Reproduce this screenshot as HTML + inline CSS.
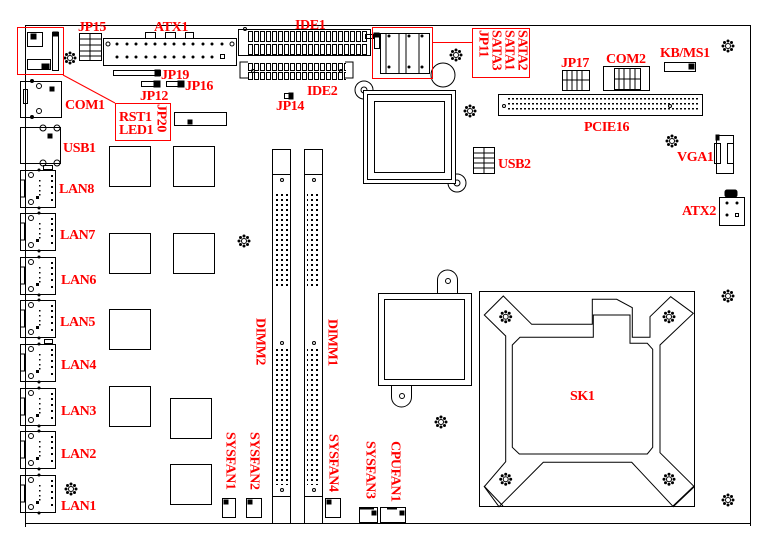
<!DOCTYPE html>
<html><head><meta charset="utf-8"><style>
html,body{margin:0;padding:0;background:#fff;}
svg{display:block;}
.t{font-family:"Liberation Serif",serif;font-weight:bold;font-size:14px;letter-spacing:-0.4px;fill:#f00;}
.v{font-family:"Liberation Serif",serif;font-weight:bold;font-size:14px;letter-spacing:-0.4px;fill:#f00;writing-mode:tb;}
</style></head><body>
<svg width="776" height="550" viewBox="0 0 776 550" xmlns="http://www.w3.org/2000/svg">
<defs>
<pattern id="dimm" x="275" y="193" width="5" height="5" patternUnits="userSpaceOnUse"><rect x="1" y="1" width="2" height="2" fill="#000"/></pattern>
<pattern id="pcie" x="503" y="97" width="4" height="5" patternUnits="userSpaceOnUse"><rect x="1" y="1" width="2" height="1.5" fill="#000"/></pattern>
<pattern id="ide" x="248" y="31" width="6" height="13" patternUnits="userSpaceOnUse"><rect x="0.5" y="0.5" width="4" height="10" fill="none" stroke="#000" stroke-width="1"/></pattern>
<pattern id="ide2" x="248" y="63" width="6" height="9" patternUnits="userSpaceOnUse"><rect x="0.5" y="0.5" width="4" height="7" fill="none" stroke="#000" stroke-width="1"/></pattern>
<g id="hole"><circle r="2.5" fill="none" stroke="#000"/><circle cx="0" cy="-5" r="1" fill="#000"/><circle cx="0" cy="5" r="1" fill="#000"/><circle cx="-5" cy="0" r="1" fill="#000"/><circle cx="5" cy="0" r="1" fill="#000"/><circle cx="3.5" cy="3.5" r="1" fill="#000"/><circle cx="-3.5" cy="3.5" r="1" fill="#000"/><circle cx="3.5" cy="-3.5" r="1" fill="#000"/><circle cx="-3.5" cy="-3.5" r="1" fill="#000"/></g>
<g id="lan" fill="none" stroke="#000" stroke-width="1">
<rect x="0.5" y="0.5" width="35" height="37"/><rect x="0.5" y="10" width="4" height="17"/>
<circle cx="11" cy="5" r="2.5"/><circle cx="11" cy="32" r="2.5"/>
<g fill="#000" stroke="none"><circle cx="19" cy="0" r="1.5"/><circle cx="19" cy="38" r="1.5"/><rect x="16" y="26" width="3" height="3"/><rect x="31" y="5" width="2" height="2"/><rect x="31" y="10" width="2" height="2"/><rect x="31" y="16" width="2" height="2"/><rect x="31" y="22" width="2" height="2"/><rect x="31" y="29" width="2" height="2"/><rect x="19" y="10" width="1.5" height="1.5"/><rect x="19" y="15" width="1.5" height="1.5"/><rect x="19" y="20" width="1.5" height="1.5"/><rect x="19" y="24" width="1.5" height="1.5"/></g>
</g>
</defs>
<g fill="none" stroke="#000" stroke-width="1">
<polyline points="25.5,527 25.5,25.5 750.5,25.5 750.5,526"/>
<line x1="25" y1="523.5" x2="750" y2="523.5"/>
<rect x="27.5" y="32.5" width="15" height="14"/><rect x="31" y="34" width="5" height="5" fill="#000"/>
<rect x="27.5" y="59.5" width="23" height="10"/><rect x="42" y="64" width="7" height="5" fill="#000"/>
<rect x="52.5" y="32.5" width="6" height="38"/><rect x="53" y="32" width="5" height="4" fill="#000"/>
<use href="#hole" x="70" y="58"/>
<rect x="79.5" y="33.5" width="22" height="27"/>
<line x1="90" y1="33" x2="90" y2="61"/>
<line x1="79" y1="39" x2="102" y2="39"/><line x1="79" y1="45" x2="102" y2="45"/><line x1="79" y1="51" x2="102" y2="51"/><line x1="79" y1="56" x2="102" y2="56"/>
<rect x="103.5" y="38.5" width="133" height="27"/>
<rect x="145.5" y="32.5" width="10" height="6"/><rect x="165.5" y="32.5" width="10" height="6"/><rect x="185.5" y="32.5" width="8" height="6"/>
<circle cx="108" cy="44" r="2"/><circle cx="232" cy="44" r="2"/>
<rect x="220.5" y="54.5" width="4" height="4"/>
<g fill="#000" stroke="none">
<circle cx="117" cy="44" r="1.5"/><circle cx="127" cy="44" r="1.5"/><circle cx="136" cy="44" r="1.5"/><circle cx="146" cy="44" r="1.5"/><circle cx="155" cy="44" r="1.5"/><circle cx="165" cy="44" r="1.5"/><circle cx="174" cy="44" r="1.5"/><circle cx="184" cy="44" r="1.5"/><circle cx="193" cy="44" r="1.5"/><circle cx="203" cy="44" r="1.5"/><circle cx="212" cy="44" r="1.5"/><circle cx="222" cy="44" r="1.5"/>
<circle cx="117" cy="57" r="1.5"/><circle cx="127" cy="57" r="1.5"/><circle cx="136" cy="57" r="1.5"/><circle cx="146" cy="57" r="1.5"/><circle cx="155" cy="57" r="1.5"/><circle cx="165" cy="57" r="1.5"/><circle cx="174" cy="57" r="1.5"/><circle cx="184" cy="57" r="1.5"/><circle cx="193" cy="57" r="1.5"/><circle cx="203" cy="57" r="1.5"/><circle cx="212" cy="57" r="1.5"/>
</g>
<rect x="113.5" y="70.5" width="47" height="5"/><rect x="155" y="70" width="5" height="6" fill="#000"/>
<rect x="141.5" y="81.5" width="18" height="5"/><rect x="154" y="81" width="6" height="6" fill="#000"/>
<rect x="166.5" y="81.5" width="17" height="5"/><rect x="178" y="81" width="6" height="6" fill="#000"/>
<rect x="174.5" y="112.5" width="52" height="13"/><rect x="188" y="120" width="4" height="4" fill="#000"/>
<rect x="238.5" y="29.5" width="132" height="26"/>
<rect x="248" y="31" width="120" height="26" fill="url(#ide)" stroke="none"/>
<circle cx="245" cy="29" r="1.5"/>
<rect x="365.5" y="34.5" width="8" height="4"/>
<polyline points="248,62 240,62 240,78 248,78"/><polyline points="345,62 353,62 353,78 345,78"/>
<rect x="248" y="63" width="98" height="17" fill="url(#ide2)" stroke="none"/>
<circle cx="253" cy="71" r="1.5"/><circle cx="341" cy="71" r="1.5"/>
<rect x="284.5" y="93.5" width="8" height="5"/><rect x="289" y="93" width="4" height="6" fill="#000"/>
<rect x="374.5" y="33.5" width="5" height="15"/><rect x="374" y="33" width="5" height="4" fill="#000"/>
<rect x="380.5" y="33.5" width="49" height="40"/>
<line x1="386" y1="33" x2="386" y2="74"/><line x1="399" y1="33" x2="399" y2="74"/><line x1="406" y1="33" x2="406" y2="74"/><line x1="419" y1="33" x2="419" y2="74"/>
<g fill="#000" stroke="none"><circle cx="389" cy="36" r="1.5"/><circle cx="389" cy="67" r="1.5"/><circle cx="409" cy="36" r="1.5"/><circle cx="409" cy="67" r="1.5"/><circle cx="422" cy="36" r="1.5"/><circle cx="422" cy="67" r="1.5"/></g>
<circle cx="443" cy="75" r="12"/>
<use href="#hole" x="456" y="55"/>
<circle cx="364" cy="90" r="9"/><circle cx="364" cy="90" r="3"/>
<circle cx="457" cy="183" r="9"/><circle cx="457" cy="183" r="3"/>
<rect x="363.5" y="90.5" width="92" height="93" fill="#fff"/>
<rect x="367.5" y="94.5" width="84" height="85"/>
<rect x="374.5" y="101.5" width="70" height="71"/>
<use href="#hole" x="470" y="111"/>
<rect x="473.5" y="147.5" width="21" height="26"/>
<line x1="484" y1="147" x2="484" y2="174"/>
<line x1="473" y1="153" x2="495" y2="153"/><line x1="473" y1="158" x2="495" y2="158"/><line x1="473" y1="163" x2="495" y2="163"/><line x1="473" y1="168" x2="495" y2="168"/>
<rect x="562.5" y="70.5" width="27" height="20"/>
<line x1="562" y1="80" x2="590" y2="80"/>
<line x1="567" y1="70" x2="567" y2="91"/><line x1="572" y1="70" x2="572" y2="91"/><line x1="577" y1="70" x2="577" y2="91"/><line x1="582" y1="70" x2="582" y2="91"/>
<rect x="603.5" y="66.5" width="46" height="24"/>
<rect x="614.5" y="68.5" width="26" height="21"/>
<line x1="614" y1="79" x2="641" y2="79"/>
<line x1="619" y1="68" x2="619" y2="90"/><line x1="624" y1="68" x2="624" y2="90"/><line x1="630" y1="68" x2="630" y2="90"/><line x1="635" y1="68" x2="635" y2="90"/>
<rect x="664.5" y="62.5" width="31" height="9"/><rect x="689" y="64" width="5" height="5" fill="#000"/>
<use href="#hole" x="728" y="46"/>
<rect x="498.5" y="94.5" width="204" height="21"/>
<rect x="507" y="97" width="192" height="16" fill="url(#pcie)" stroke="none"/>
<circle cx="504" cy="106" r="1.5"/><circle cx="670" cy="106" r="1.5"/>
<use href="#hole" x="672" y="141"/>
<rect x="716.5" y="135.5" width="17" height="38"/><rect x="716" y="135" width="3" height="5" fill="#000"/>
<rect x="714.5" y="143.5" width="6" height="20"/><rect x="727.5" y="143.5" width="6" height="20"/>
<rect x="719.5" y="197.5" width="25" height="28"/><rect x="725" y="190" width="12" height="7" rx="2" fill="#000"/>
<circle cx="727" cy="203" r="1" fill="#000"/><circle cx="737" cy="203" r="1" fill="#000"/><circle cx="727" cy="215" r="1" fill="#000"/><rect x="735.5" y="213.5" width="3" height="3"/>
<use href="#hole" x="728" y="296"/><use href="#hole" x="728" y="500"/>
<rect x="20.5" y="81.5" width="41" height="36"/><rect x="23.5" y="89.5" width="4" height="14"/>
<circle cx="39" cy="86" r="2.5"/><circle cx="39" cy="111" r="2.5"/>
<rect x="50" y="87" width="4" height="4" fill="#000"/>
<circle cx="32" cy="81" r="1.5" fill="#000"/><circle cx="32" cy="117" r="1.5" fill="#000"/>
<rect x="20.5" y="127.5" width="40" height="36"/>
<circle cx="43" cy="128" r="3"/><circle cx="57" cy="128" r="3"/><circle cx="43" cy="163" r="3"/><circle cx="57" cy="163" r="3"/>
<rect x="48" y="134" width="4" height="4" fill="#000"/>
<use href="#lan" x="20" y="170"/><use href="#lan" x="20" y="213"/><use href="#lan" x="20" y="257"/><use href="#lan" x="20" y="300"/>
<use href="#lan" x="20" y="344"/><use href="#lan" x="20" y="388"/><use href="#lan" x="20" y="431"/><use href="#lan" x="20" y="475"/>
<rect x="43.5" y="165.5" width="9" height="4"/><rect x="44.5" y="339.5" width="8" height="4"/>
<use href="#hole" x="71" y="489"/>
<rect x="109.5" y="146.5" width="41" height="40"/><rect x="173.5" y="146.5" width="41" height="40"/>
<rect x="109.5" y="233.5" width="41" height="40"/><rect x="173.5" y="233.5" width="41" height="40"/>
<rect x="109.5" y="309.5" width="41" height="40"/><rect x="109.5" y="386.5" width="41" height="40"/>
<rect x="170.5" y="398.5" width="41" height="40"/><rect x="170.5" y="464.5" width="41" height="40"/>
<use href="#hole" x="244" y="241"/>
<rect x="272.5" y="149.5" width="18" height="374"/><line x1="272" y1="174.5" x2="291" y2="174.5"/><line x1="272" y1="496.5" x2="291" y2="496.5"/>
<rect x="275" y="193" width="14" height="94" fill="url(#dimm)" stroke="none"/><rect x="275" y="348" width="14" height="137" fill="url(#dimm)" stroke="none"/>
<circle cx="282" cy="343" r="1.5"/><circle cx="282" cy="490" r="1.5"/><circle cx="282" cy="180" r="1.5"/>
<rect x="304.5" y="149.5" width="18" height="374"/><line x1="304" y1="174.5" x2="323" y2="174.5"/><line x1="304" y1="496.5" x2="323" y2="496.5"/>
<rect x="307" y="193" width="14" height="94" fill="url(#dimm)" stroke="none"/><rect x="307" y="348" width="14" height="137" fill="url(#dimm)" stroke="none"/>
<circle cx="314" cy="343" r="1.5"/><circle cx="314" cy="490" r="1.5"/><circle cx="314" cy="180" r="1.5"/>
<line x1="359.5" y1="507" x2="359.5" y2="523"/>
<rect x="222.5" y="498.5" width="13" height="19"/><rect x="224" y="500" width="4" height="4" fill="#000"/>
<rect x="246.5" y="498.5" width="15" height="19"/><rect x="248" y="500" width="4" height="4" fill="#000"/>
<rect x="325.5" y="498.5" width="15" height="19"/><rect x="327" y="500" width="4" height="4" fill="#000"/>
<rect x="359.5" y="507.5" width="18" height="15"/><rect x="372" y="511" width="4" height="4" fill="#000"/><line x1="360" y1="508.5" x2="374" y2="508.5" stroke-width="2"/>
<rect x="380.5" y="507.5" width="25" height="15"/><rect x="400" y="511" width="4" height="4" fill="#000"/><line x1="387" y1="508.5" x2="397" y2="508.5" stroke-width="2"/>
<path d="M437.5,293 V280 a10,10 0 0 1 20,0 V293"/><circle cx="448" cy="281" r="2.5"/>
<path d="M391.5,385 V397 a10,10 0 0 0 20,0 V385"/><circle cx="402" cy="396" r="2.5"/>
<rect x="378.5" y="293.5" width="93" height="92" fill="#fff"/>
<rect x="384.5" y="299.5" width="80" height="80"/>
<use href="#hole" x="441" y="422"/>
<!-- SK1 -->
<rect x="479.5" y="291.5" width="215" height="215"/>
<polygon points="484.3,315 503.3,296 531.7,324.3 592.3,324.3 592.3,299.3 616.7,299.3 632.3,307.7 632.3,337.3 650,337.3 650,316.7 670.7,296.7 693.3,313.3 660,345 660,452.7 694.3,486.7 673.3,506.7 631.7,462.3 543.3,462.3 499,506.7 484.3,486.7 505.7,461.7 505.7,336"/>
<polygon points="593.3,315 630,315 630,343.3 647.3,343.3 652.7,349.3 652.7,447.3 647.3,454 519.3,454 512.3,447.3 512.3,345 520,337.3 593.3,337.3"/>
<line x1="484" y1="486" x2="503" y2="506"/><line x1="673" y1="506" x2="694" y2="486"/>
<use href="#hole" x="505.7" y="316.7"/><use href="#hole" x="669" y="316.7"/><use href="#hole" x="505.7" y="479.3"/><use href="#hole" x="669" y="479.3"/>
</g>
<g fill="none" stroke="#f00" stroke-width="1">
<rect x="17.5" y="27.5" width="46" height="47"/>
<polyline points="63,75 115,103"/>
<rect x="115.5" y="103.5" width="55" height="37"/>
<rect x="372.5" y="27.5" width="60" height="51"/>
<line x1="432" y1="42.5" x2="472" y2="42.5"/>
<rect x="472.5" y="28.5" width="57" height="49"/>
</g>
<text class="t" x="78" y="31">JP15</text>
<text class="t" x="154" y="31">ATX1</text>
<text class="t" x="295" y="29">IDE1</text>
<text class="t" x="161" y="79">JP19</text>
<text class="t" x="185" y="90">JP16</text>
<text class="t" x="140" y="100">JP12</text>
<text class="t" x="307" y="95">IDE2</text>
<text class="t" x="276" y="110">JP14</text>
<text class="t" x="119" y="121">RST1</text>
<text class="t" x="119" y="134">LED1</text>
<text class="v" x="161" y="104">JP20</text>
<text class="v" x="483" y="30">JP11</text>
<text class="v" x="496" y="30">SATA3</text>
<text class="v" x="509" y="30">SATA1</text>
<text class="v" x="522" y="30">SATA2</text>
<text class="t" x="561" y="67">JP17</text>
<text class="t" x="606" y="63">COM2</text>
<text class="t" x="660" y="57">KB/MS1</text>
<text class="t" x="584" y="131">PCIE16</text>
<text class="t" x="498" y="168">USB2</text>
<text class="t" x="677" y="161">VGA1</text>
<text class="t" x="682" y="215">ATX2</text>
<text class="t" x="570" y="400">SK1</text>
<text class="t" x="65" y="109">COM1</text>
<text class="t" x="63" y="152">USB1</text>
<text class="t" x="59" y="193">LAN8</text>
<text class="t" x="60" y="239">LAN7</text>
<text class="t" x="61" y="284">LAN6</text>
<text class="t" x="60" y="326">LAN5</text>
<text class="t" x="61" y="369">LAN4</text>
<text class="t" x="61" y="415">LAN3</text>
<text class="t" x="61" y="458">LAN2</text>
<text class="t" x="61" y="510">LAN1</text>
<text class="v" x="260" y="318">DIMM2</text>
<text class="v" x="332" y="319">DIMM1</text>
<text class="v" x="230" y="432">SYSFAN1</text>
<text class="v" x="254" y="432">SYSFAN2</text>
<text class="v" x="333" y="434">SYSFAN4</text>
<text class="v" x="370" y="441">SYSFAN3</text>
<text class="v" x="395" y="441">CPUFAN1</text>
</svg>
</body></html>
